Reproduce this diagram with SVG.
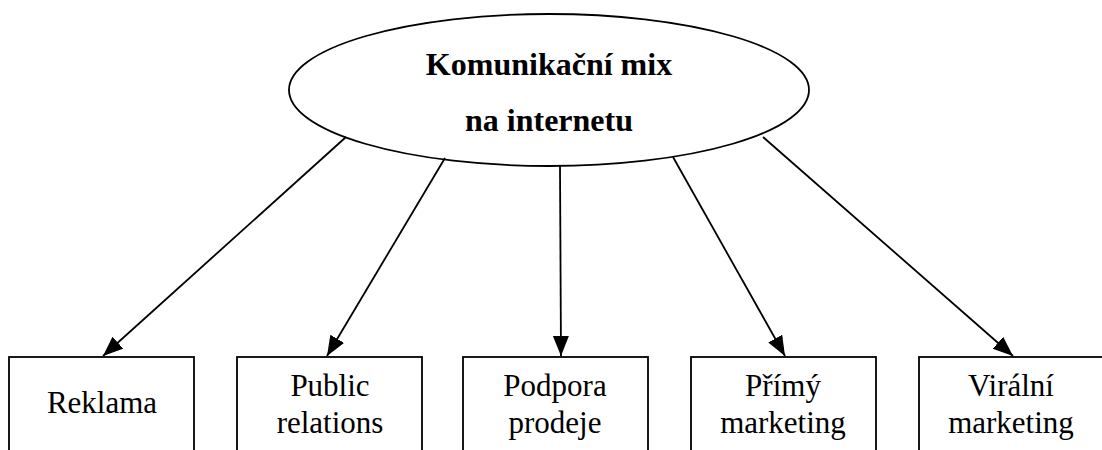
<svg xmlns="http://www.w3.org/2000/svg" width="1102" height="450" viewBox="0 0 1102 450">
<style>
.shape{fill:#fff;stroke:#000;stroke-width:1.8}
.title{font-family:"Liberation Serif","Times New Roman",serif;font-size:32px;font-weight:bold;fill:#000;text-anchor:middle}
.lbl{font-family:"Liberation Serif","Times New Roman",serif;font-size:31px;fill:#000;text-anchor:middle}
.conn{stroke:#000;stroke-width:1.8;fill:none;marker-end:url(#ah)}
</style>
<defs>
<marker id="ah" markerUnits="userSpaceOnUse" markerWidth="22" markerHeight="18" refX="20" refY="8" orient="auto">
<path d="M0,0 L20,8 L0,16 z" fill="#000"/>
</marker>
</defs>
<rect width="1102" height="450" fill="#fff"/>
<g id="center">
<ellipse class="shape" cx="549" cy="90" rx="260" ry="76"/>
<text class="title" x="549" y="75">Komunikační mix</text>
<text class="title" x="549" y="131">na internetu</text>
</g>
<g id="connectors">
<line class="conn" x1="346" y1="137" x2="103" y2="356"/>
<line class="conn" x1="445" y1="158" x2="327" y2="356"/>
<line class="conn" x1="560" y1="166" x2="561" y2="356"/>
<line class="conn" x1="673" y1="157" x2="785" y2="356"/>
<line class="conn" x1="763" y1="137" x2="1013" y2="356"/>
</g>
<g id="reklama">
<rect class="shape" x="9" y="357" width="185" height="110"/>
<text class="lbl" x="102" y="413">Reklama</text>
</g>
<g id="public-relations">
<rect class="shape" x="237" y="357" width="185" height="110"/>
<text class="lbl" x="330" y="396">Public</text>
<text class="lbl" x="330" y="433">relations</text>
</g>
<g id="podpora-prodeje">
<rect class="shape" x="463" y="357" width="185" height="110"/>
<text class="lbl" x="555" y="396">Podpora</text>
<text class="lbl" x="555" y="433">prodeje</text>
</g>
<g id="primy-marketing">
<rect class="shape" x="691" y="357" width="185" height="110"/>
<text class="lbl" x="783" y="396">Přímý</text>
<text class="lbl" x="783" y="433">marketing</text>
</g>
<g id="viralni-marketing">
<rect class="shape" x="919" y="357" width="185" height="110"/>
<text class="lbl" x="1011" y="396">Virální</text>
<text class="lbl" x="1011" y="433">marketing</text>
</g>
</svg>
